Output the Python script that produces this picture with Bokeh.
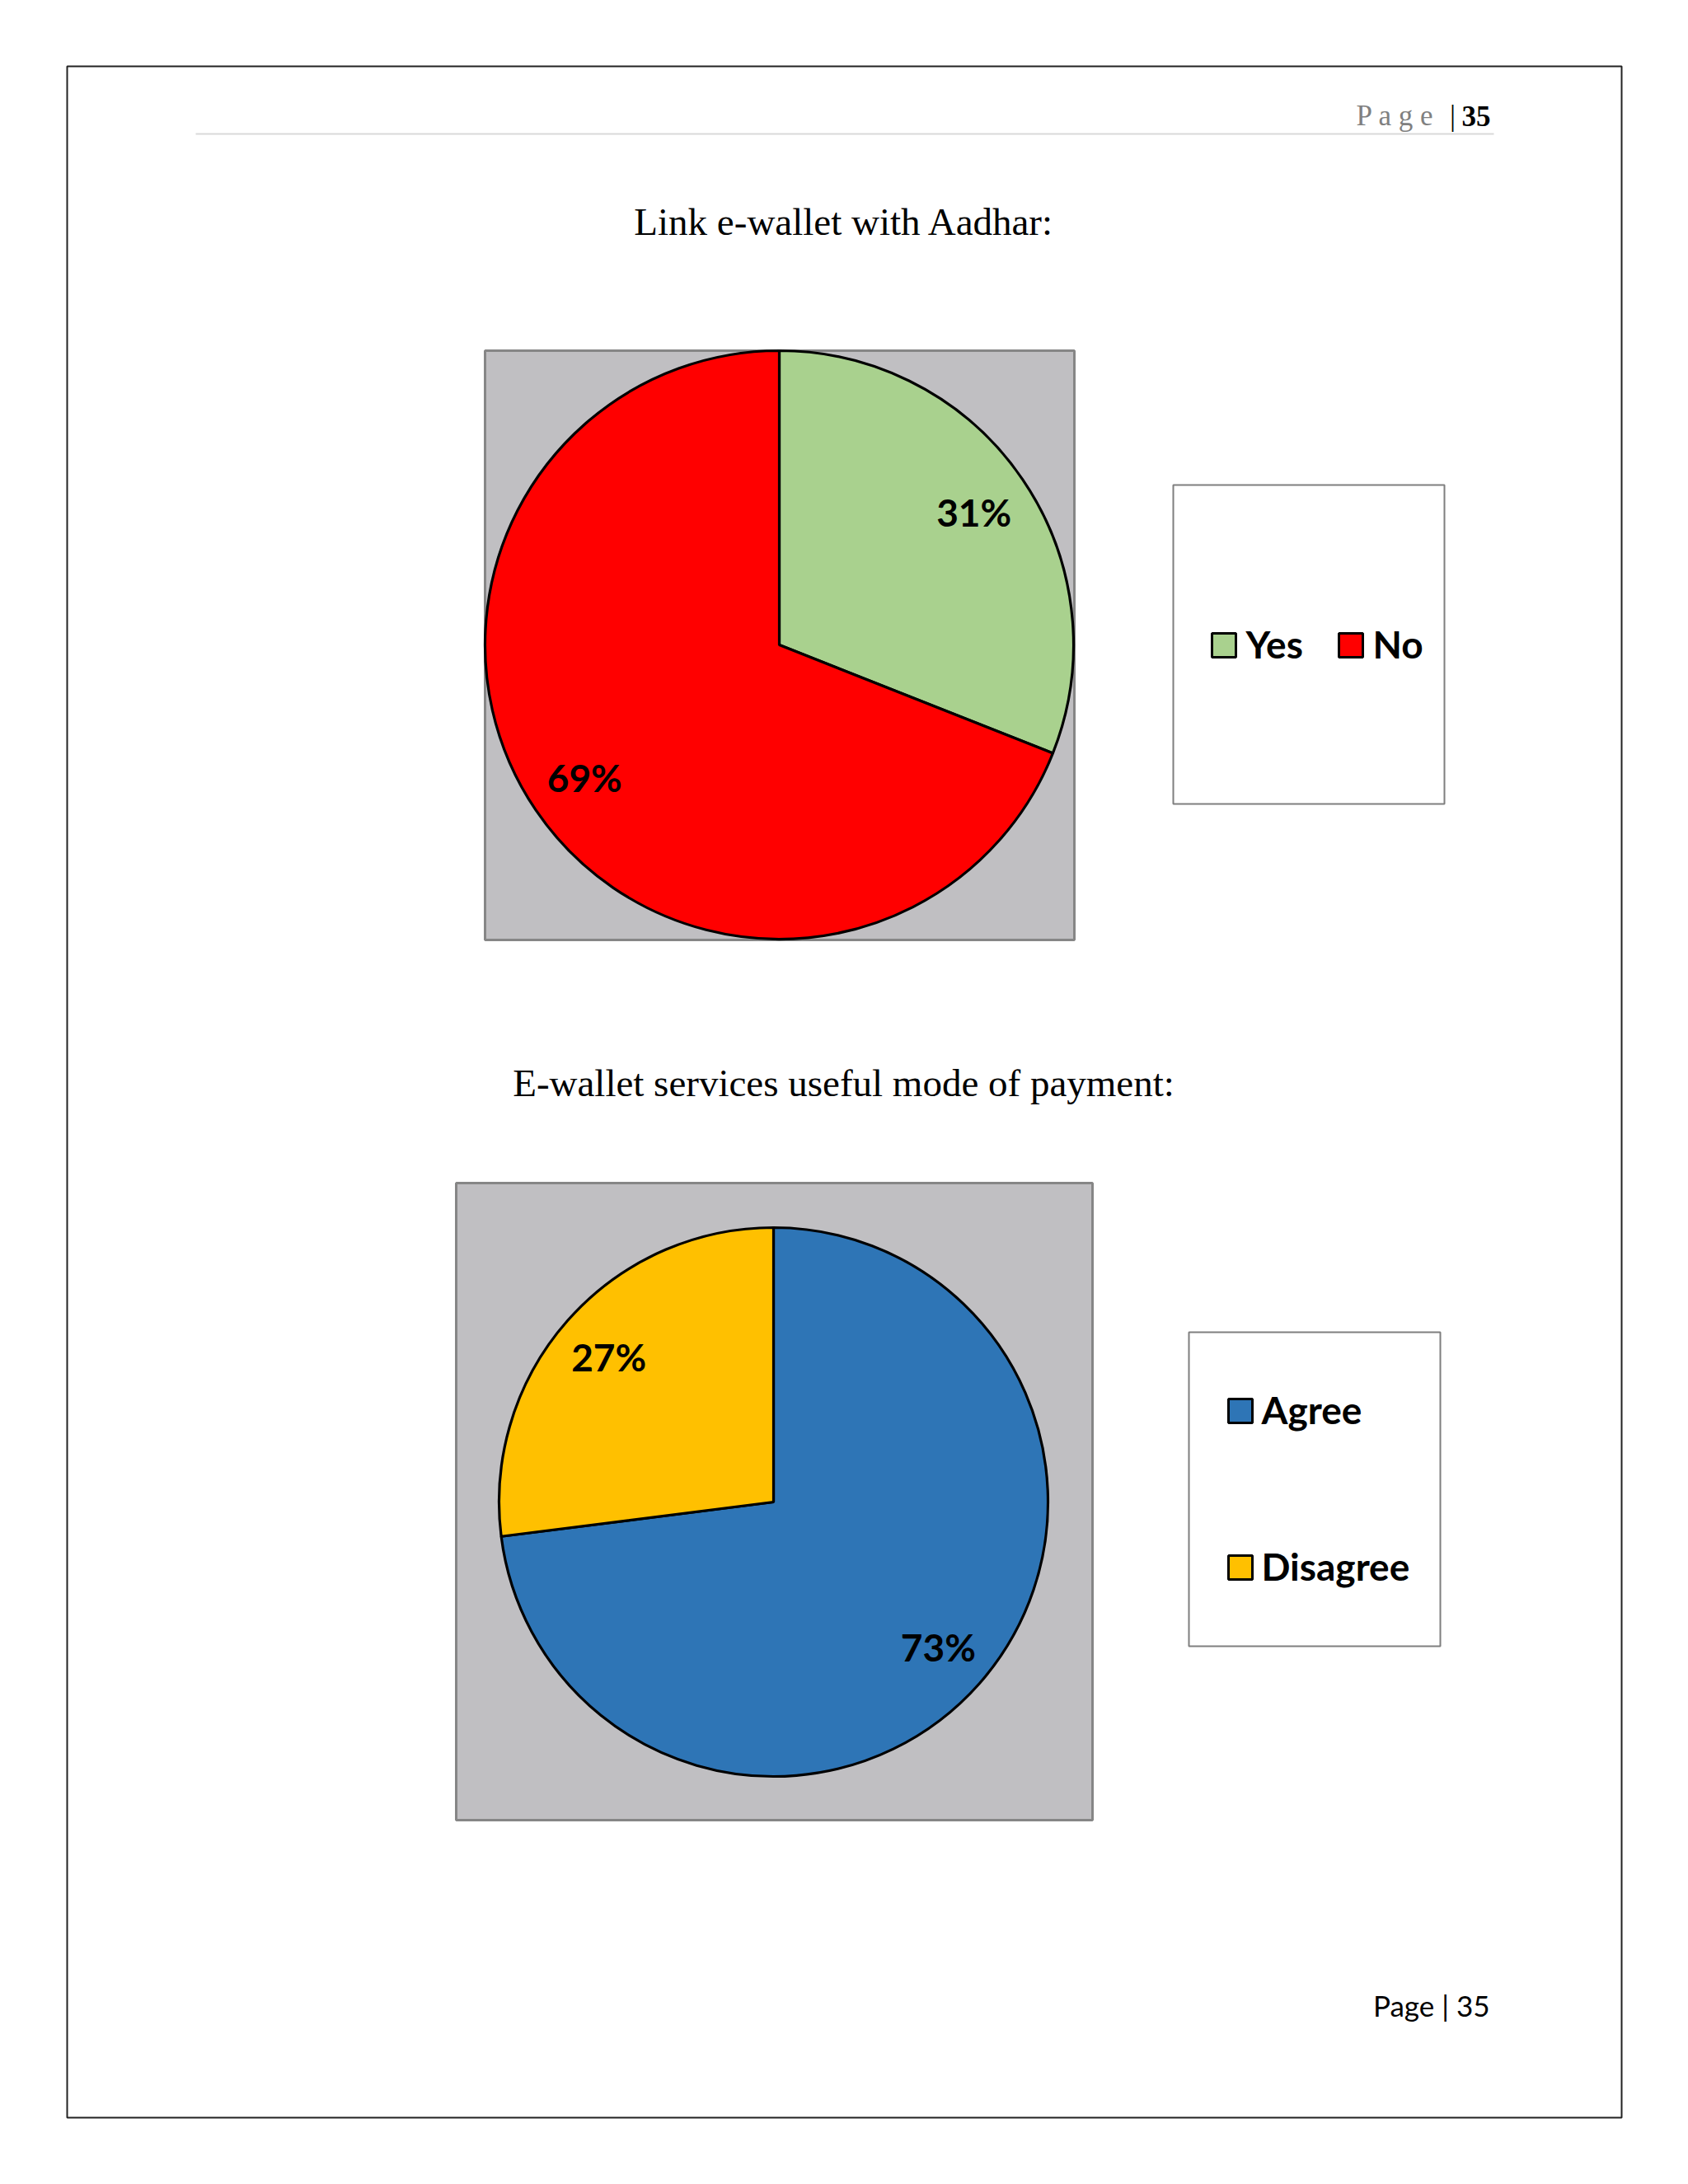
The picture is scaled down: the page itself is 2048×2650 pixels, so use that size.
import math
from bokeh.plotting import figure
from bokeh.models import Range1d, ColumnDataSource
from bokeh.core.properties import value
from bokeh.embed import file_html
from bokeh.resources import INLINE

# ---------------- data ----------------
chart1_title = "Link e-wallet with Aadhar:"
chart1_categories = ["Yes", "No"]
chart1_values = [31, 69]
chart1_colors = ["#A9D18E", "#FF0000"]

chart2_title = "E-wallet services useful mode of payment:"
chart2_categories = ["Agree", "Disagree"]
chart2_values = [73, 27]
chart2_colors = ["#2E75B6", "#FFC000"]

header_word = "P a g e"
header_bar = "|"
page_number = "35"
footer_text = "Page | 35"

# ---------------- page geometry ----------------
W, H = 2032, 2634


def X(x):
    return x


def Y(y):
    return H - y


p = figure(width=W, height=H, x_range=Range1d(0, W), y_range=Range1d(0, H),
           output_backend="svg", toolbar_location=None, min_border=0,
           x_axis_type=None, y_axis_type=None)
p.outline_line_color = None
p.background_fill_color = "white"
p.border_fill_color = "white"

SERIF = value("Liberation Serif")
SANS = value("Lato")

# page border
p.quad(left=X(81), right=X(1967), top=Y(80), bottom=Y(2569),
       fill_alpha=0, line_color="#222222", line_width=2)

# header
p.segment(x0=X(237), y0=Y(162), x1=X(1812), y1=Y(162), line_color="#D9D9D9", line_width=2)
p.text(x=[X(1645)], y=[Y(140)], text=[header_word], text_font=SERIF, text_font_size="35px",
       text_color="#808080", text_align="left", text_baseline="middle")
p.text(x=[X(1762)], y=[Y(140)], text=[header_bar], text_font=SERIF, text_font_size="35px",
       text_color="black", text_align="center", text_baseline="middle")
p.text(x=[X(1808)], y=[Y(140)], text=[page_number], text_font=SERIF, text_font_size="35px",
       text_font_style="bold", text_color="black", text_align="right", text_baseline="middle")

# footer
p.text(x=[X(1807)], y=[Y(2432)], text=[footer_text], text_font=SANS, text_font_size="35px",
       text_color="black", text_align="right", text_baseline="middle")


def draw_pie(cats, vals, colors, box, cx, cy, r):
    l, t, rr, b = box
    p.quad(left=X(l), right=X(rr), top=Y(t), bottom=Y(b),
           fill_color="#C0BFC2", line_color="#868686", line_width=3)
    total = float(sum(vals))
    starts, ends, lx, ly, labels = [], [], [], [], []
    cum = 0.0
    for v in vals:
        f0 = cum / total
        cum += v
        f1 = cum / total
        starts.append(math.pi / 2 - 2 * math.pi * f1)
        ends.append(math.pi / 2 - 2 * math.pi * f0)
        m = math.pi / 2 - 2 * math.pi * (f0 + f1) / 2
        lx.append(X(cx) + 0.8 * r * math.cos(m))
        ly.append(Y(cy) + 0.8 * r * math.sin(m))
        labels.append(f"{round(100 * v / total)}%")
    src = ColumnDataSource(dict(cat=cats, val=vals, color=colors, start=starts, end=ends,
                                lx=lx, ly=ly, label=labels))
    p.wedge(x=X(cx), y=Y(cy), radius=r, start_angle="start", end_angle="end",
            fill_color="color", line_color="black", line_width=3.2, source=src)
    p.text(x="lx", y="ly", text="label", source=src, text_font=SANS, text_font_style="bold",
           text_font_size="46px", text_color="black", text_align="center", text_baseline="middle")


def legend_box(box):
    l, t, rr, b = box
    p.quad(left=X(l), right=X(rr), top=Y(t), bottom=Y(b),
           fill_color="white", line_color="#7F7F7F", line_width=2)


def legend_item(label, color, sx, sy, tx):
    # sx, sy: swatch top-left in page coords; swatch 29 px
    p.quad(left=X(sx), right=X(sx + 29), top=Y(sy), bottom=Y(sy + 29),
           fill_color=color, line_color="black", line_width=3)
    p.text(x=[X(tx)], y=[Y(sy + 13)], text=[label], text_font=SANS, text_font_style="bold",
           text_font_size="46px", text_color="black", text_align="left", text_baseline="middle")


# ---------------- chart 1 ----------------
p.text(x=[X(1024)], y=[Y(268)], text=[chart1_title], text_font=SERIF, text_font_size="47px",
       text_color="black", text_align="center", text_baseline="middle")
draw_pie(chart1_categories, chart1_values, chart1_colors, (588, 425, 1303, 1140), 945, 782, 357)
legend_box((1423, 588, 1752, 975))
legend_item(chart1_categories[0], chart1_colors[0], 1470, 768, 1511)
legend_item(chart1_categories[1], chart1_colors[1], 1624, 768, 1665)

# ---------------- chart 2 ----------------
p.text(x=[X(1023)], y=[Y(1313)], text=[chart2_title], text_font=SERIF, text_font_size="47px",
       text_color="black", text_align="center", text_baseline="middle")
draw_pie(chart2_categories, chart2_values, chart2_colors, (553, 1435, 1325, 2208), 938, 1822, 333)
legend_box((1442, 1616, 1747, 1997))
legend_item(chart2_categories[0], chart2_colors[0], 1490, 1697, 1530)
legend_item(chart2_categories[1], chart2_colors[1], 1490, 1887, 1530)

open("out.html", "w").write(file_html(p, INLINE))
